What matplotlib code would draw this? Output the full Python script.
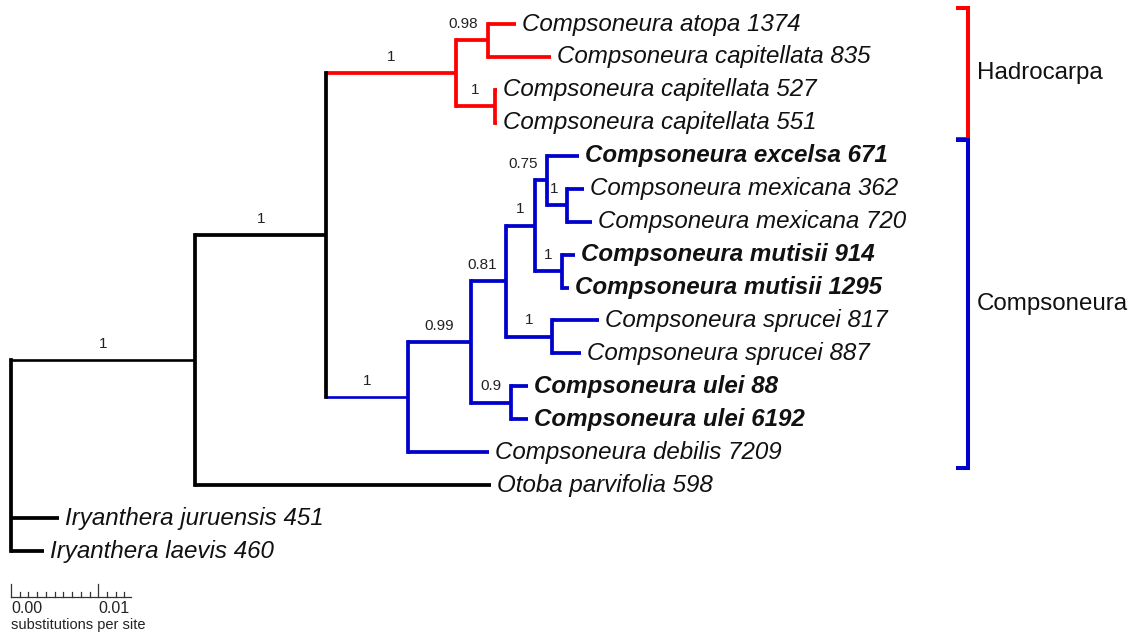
import matplotlib
matplotlib.use('Agg')
import matplotlib.pyplot as plt

plt.rcParams['font.family'] = ['Liberation Sans', 'DejaVu Sans']

# internal nodes: id, parent, branch length (subst./site), posterior support
node_ids = ["root", "A", "B", "H", "H1", "H2", "C", "C1", "C2", "C3", "C4", "Mex", "Mut", "Spr", "Ulei"]
node_parents = [None, "root", "A", "B", "H", "H", "B", "C", "C1", "C2", "C3", "C4", "C3", "C2", "C1"]
node_lengths = [0.0, 0.0211, 0.0150, 0.0149, 0.0036, 0.0044, 0.0094, 0.0072, 0.0040,
                0.0033, 0.0014, 0.0023, 0.0031, 0.0053, 0.0046]
node_support = ["", "1", "1", "1", "0.98", "1", "1", "0.99", "0.81", "1", "0.75", "1", "1", "1", "0.9"]

# tips, top to bottom
tip_labels = ["Compsoneura atopa 1374", "Compsoneura capitellata 835", "Compsoneura capitellata 527",
              "Compsoneura capitellata 551", "Compsoneura excelsa 671", "Compsoneura mexicana 362",
              "Compsoneura mexicana 720", "Compsoneura mutisii 914", "Compsoneura mutisii 1295",
              "Compsoneura sprucei 817", "Compsoneura sprucei 887", "Compsoneura ulei 88",
              "Compsoneura ulei 6192", "Compsoneura debilis 7209", "Otoba parvifolia 598",
              "Iryanthera juruensis 451", "Iryanthera laevis 460"]
tip_parents = ["H1", "H1", "H2", "H2", "C4", "Mex", "Mex", "Mut", "Mut", "Spr", "Spr",
               "Ulei", "Ulei", "C", "A", "root", "root"]
tip_lengths = [0.0032, 0.0072, 0.0003, 0.0003, 0.0037, 0.0019, 0.0029, 0.0015, 0.0008,
               0.0053, 0.0033, 0.0019, 0.0019, 0.0093, 0.0339, 0.0055, 0.0038]
tip_bold = [False, False, False, False, True, False, False, True, True, False, False,
            True, True, False, False, False, False]

clade_names = ["Hadrocarpa", "Compsoneura"]
clade_nodes = ["H", "C"]
clade_colors = ["#ff0000", "#0000cc"]

thin_branches = ["A", "C"]

PX = 8730.0          # pixels per substitution
LW = 2.7
LW_THIN = 1.9

# ---- layout ----
parent = dict(zip(node_ids, node_parents))
blen = dict(zip(node_ids, node_lengths))
support = dict(zip(node_ids, node_support))
tips = [f"t{i}" for i in range(len(tip_labels))]
for t, p, l in zip(tips, tip_parents, tip_lengths):
    parent[t] = p
    blen[t] = l

x = {}
for n in node_ids + tips:
    x[n] = 0.0 if parent[n] is None else x[parent[n]] + blen[n]

children = {n: [] for n in node_ids}
for n in node_ids[1:] + tips:
    children[parent[n]].append(n)

y = {t: i for i, t in enumerate(tips)}
for n in reversed(node_ids):
    ys = [y[c] for c in children[n]]
    y[n] = (min(ys) + max(ys)) / 2


def colour_of(n):
    while n is not None:
        if n in clade_nodes:
            return clade_colors[clade_nodes.index(n)]
        n = parent[n]
    return "black"


def leaves(n):
    return [n] if n in tips else [l for c in children[n] for l in leaves(c)]


fig = plt.figure(figsize=(11.31, 6.34), dpi=100)
ax = fig.add_axes([0, 0, 1, 1])
ax.set_xlim(-11 / PX, 1120 / PX)
ax.set_ylim((634 - 24) / 32.94, -24 / 32.94)
ax.axis('off')

# horizontal branches
for n in node_ids[1:] + tips:
    lw = LW_THIN if n in thin_branches else LW
    ax.plot([x[parent[n]], x[n]], [y[n], y[n]], color=colour_of(n), lw=lw,
            solid_capstyle='butt')

# vertical connectors
for n in node_ids:
    ys = [y[c] for c in children[n]]
    ax.plot([x[n], x[n]], [min(ys), max(ys)], color=colour_of(n), lw=LW,
            solid_capstyle='projecting')

# support values
for n in node_ids[1:]:
    s = support[n]
    mid = (x[parent[n]] + x[n]) / 2
    pad = (9 + 7.5 * len(s) / 2) / PX
    ax.text(min(mid, x[n] - pad), y[n] - 0.5, s, ha='center', va='center', fontsize=11,
            color='#222222')

# tip labels
for t, lab, b in zip(tips, tip_labels, tip_bold):
    ax.text(x[t] + 6 / PX, y[t], lab, ha='left', va='center', fontsize=17.4, style='italic',
            fontweight='bold' if b else 'normal', color='#111111')

# clade brackets
bx = (968 - 11) / PX
bx0 = (956 - 11) / PX
for name, node, col in zip(clade_names, clade_nodes, clade_colors):
    ly = [y[l] for l in leaves(node)]
    top, bot = min(ly) - 0.48, max(ly) + 0.48
    ax.plot([bx0, bx, bx, bx0], [top, top, bot, bot], color=col, lw=2.9,
            solid_joinstyle='miter', solid_capstyle='butt')
    ax.text(bx + 9 / PX, (top + bot) / 2, name, ha='left', va='center', fontsize=17.4,
            color='#111111')

# scale bar
sb_y = (597 - 24) / 32.94
ax.plot([0, 0.0137], [sb_y, sb_y], color='#333333', lw=0.9)
for k in range(14):
    h = 13 if k % 10 == 0 else 5
    ax.plot([k * 0.001, k * 0.001], [sb_y, sb_y - h / 32.94], color='#333333', lw=0.9)
for v in [0.0, 0.01]:
    ax.text(v, (601 - 24) / 32.94, f"{v:.2f}", ha='left', va='top', fontsize=11.5, color='#222222')
ax.text(0, (618 - 24) / 32.94, "substitutions per site", ha='left', va='top', fontsize=10.5,
        color='#222222')

fig.savefig("out.png", dpi=100)
